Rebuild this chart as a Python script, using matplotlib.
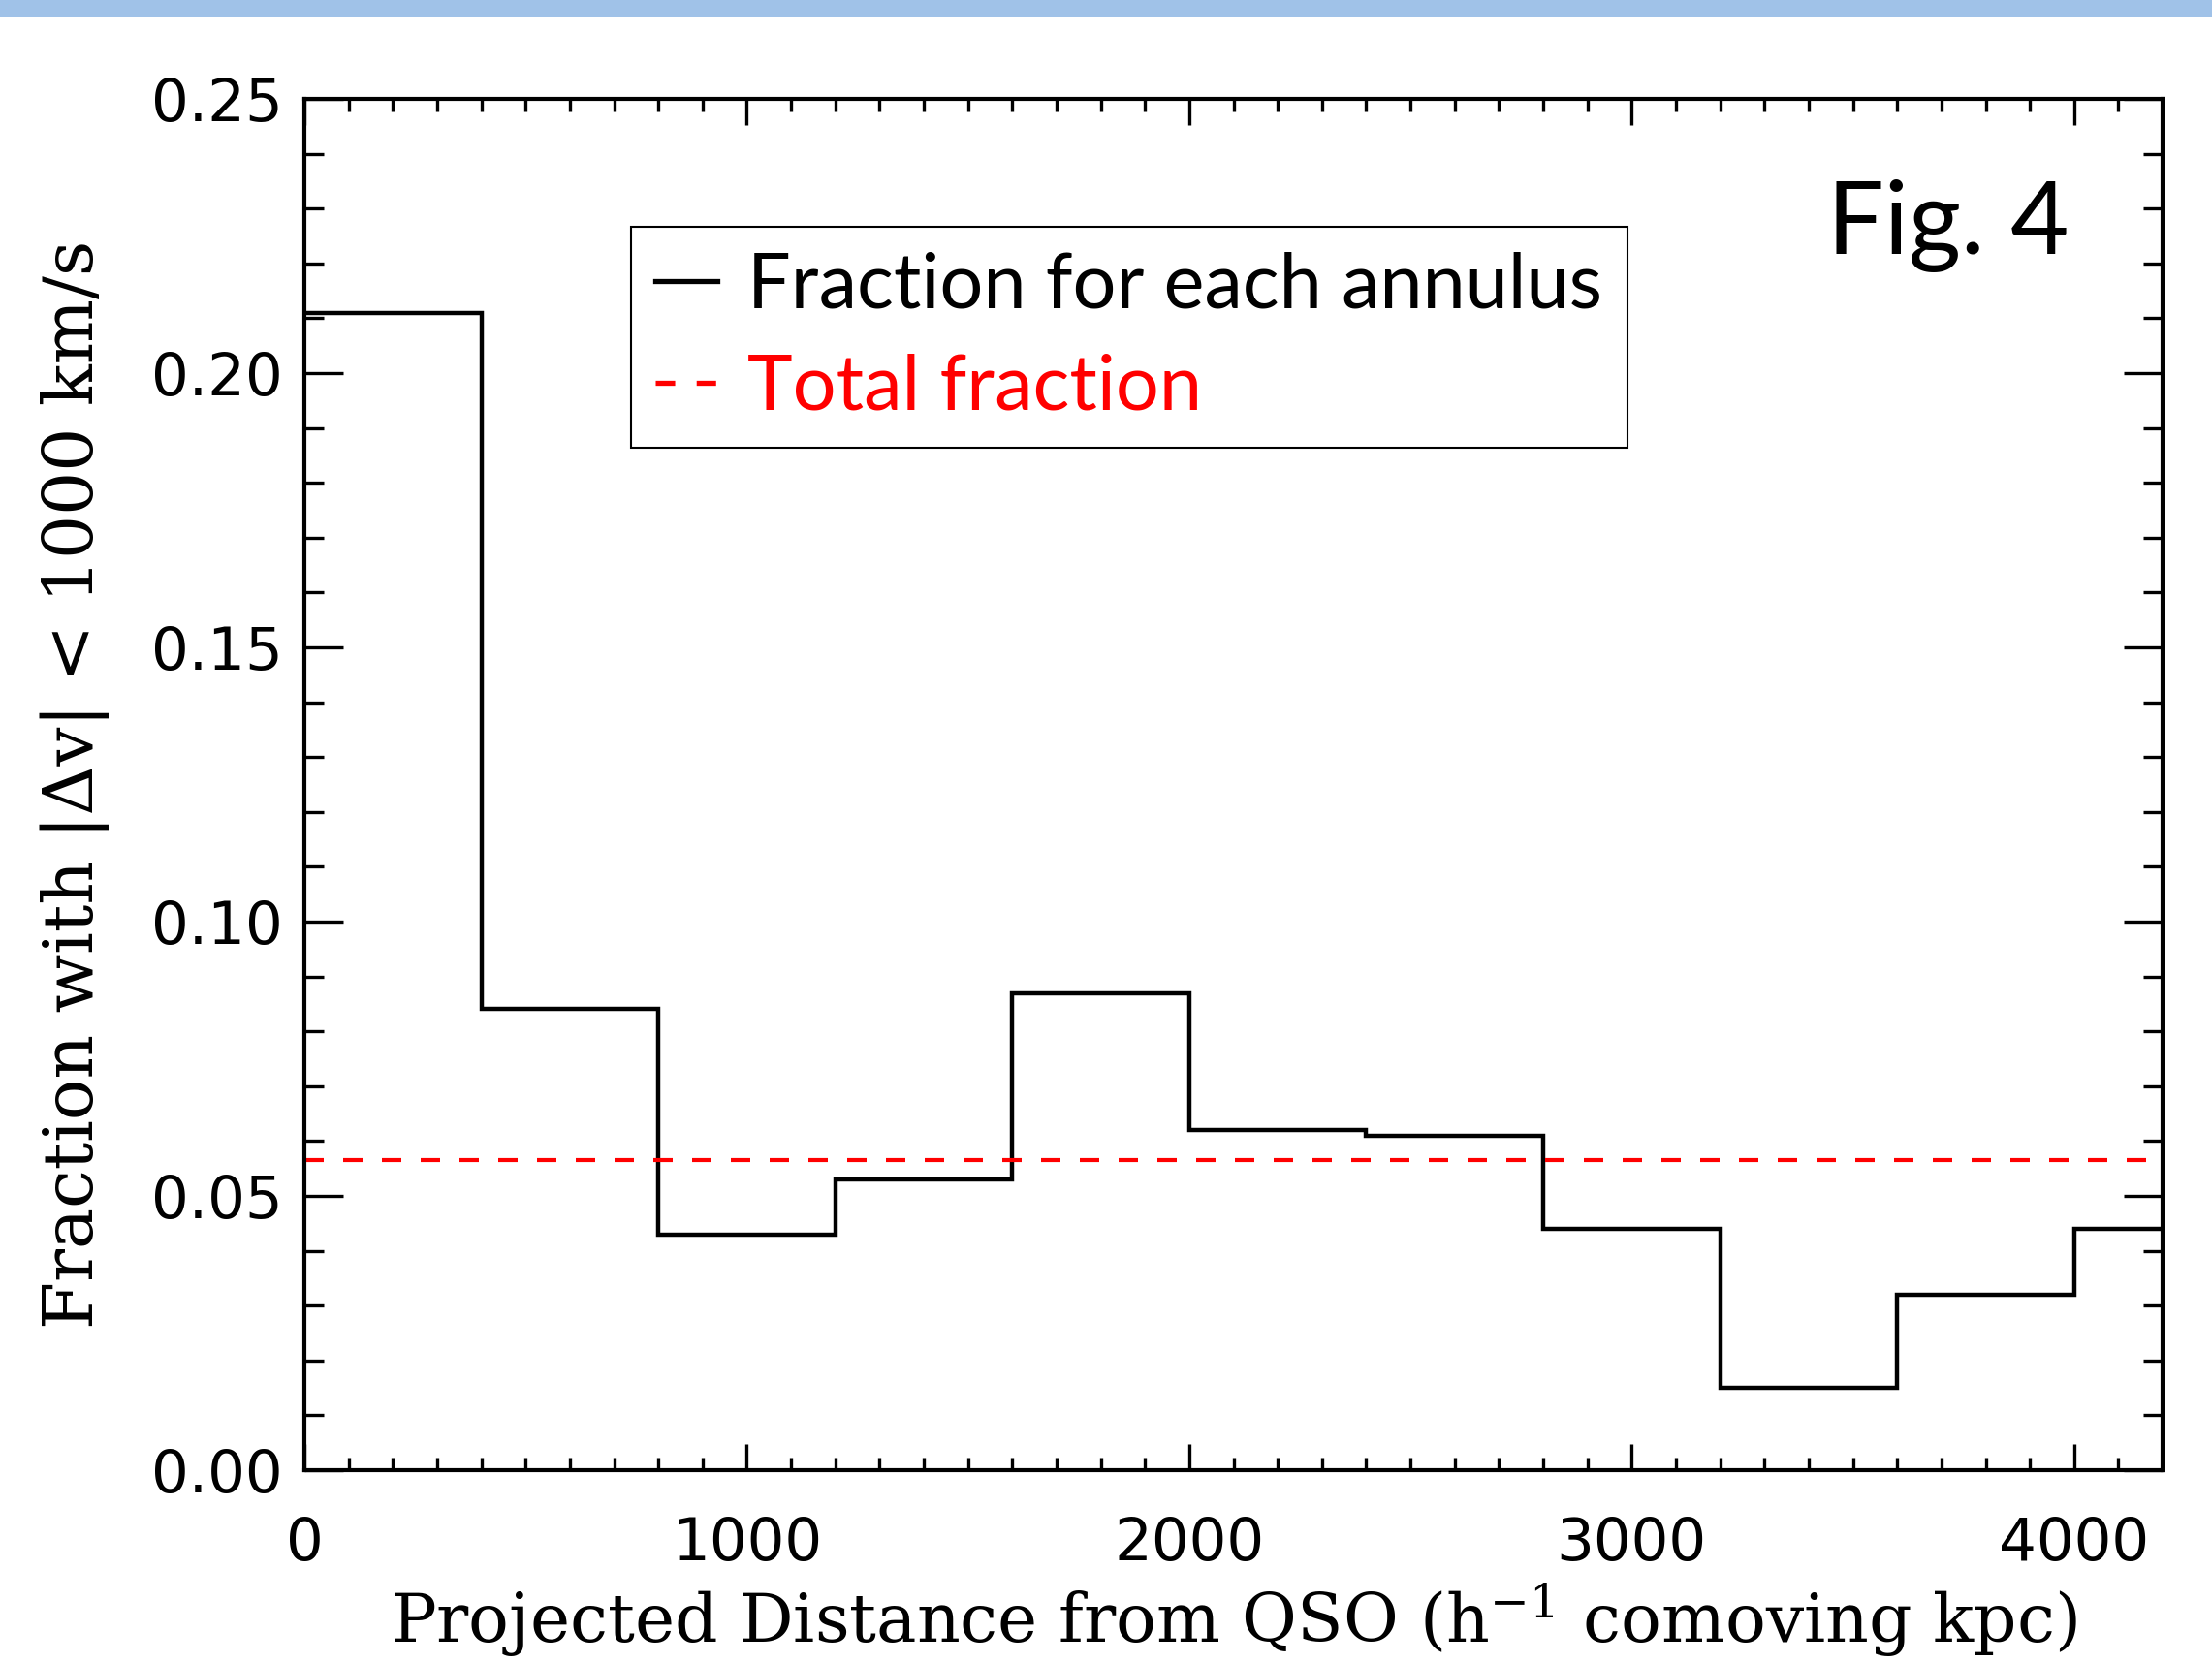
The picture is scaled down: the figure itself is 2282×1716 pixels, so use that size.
import matplotlib
matplotlib.use('Agg')
import matplotlib.pyplot as plt
from matplotlib.lines import Line2D
from matplotlib.ticker import MultipleLocator
from matplotlib.patches import Rectangle

# annulus bin edges (h^-1 comoving kpc) and fraction per annulus
binEdges = [0, 400, 800, 1200, 1600, 2000, 2400, 2800, 3200, 3600, 4000, 4200]
fracAnnulus = [0.211, 0.084, 0.043, 0.053, 0.087, 0.062, 0.061, 0.044, 0.015, 0.032, 0.044]
totalFrac = 0.0566

xTicks = [0, 1000, 2000, 3000, 4000]
yTicks = [0.00, 0.05, 0.10, 0.15, 0.20, 0.25]

plt.rcParams['mathtext.fontset'] = 'dejavuserif'

fig = plt.figure(figsize=(22.82, 17.16), dpi=100)
fig.patches.append(Rectangle((0, 0.9898), 1, 0.0102, transform=fig.transFigure,
                             facecolor='#a0c2e8', edgecolor='none'))

ax = fig.add_axes([0.1376, 0.1160, 0.8401, 0.8246])

ax.stairs(fracAnnulus, binEdges, color='black', linewidth=3.2, baseline=None)
ax.axhline(totalFrac, color='red', linewidth=3.0, dashes=(4.8, 4.8))

ax.set_xlim(0, 4200)
ax.set_ylim(0, 0.25)
ax.set_xticks(xTicks)
ax.set_yticks(yTicks)
ax.set_xticklabels([str(t) for t in xTicks])
ax.set_yticklabels(['%.2f' % t for t in yTicks])
ax.xaxis.set_minor_locator(MultipleLocator(100))
ax.yaxis.set_minor_locator(MultipleLocator(0.01))

for s in ax.spines.values():
    s.set_linewidth(3.0)

ax.tick_params(axis='both', which='both', direction='in', top=True, right=True, width=2.4)
ax.tick_params(axis='x', which='major', length=19.5, pad=34)
ax.tick_params(axis='x', which='minor', length=9.5)
ax.tick_params(axis='y', which='major', length=29, pad=16)
ax.tick_params(axis='y', which='minor', length=14.5)
for lab in ax.get_xticklabels() + ax.get_yticklabels():
    lab.set_fontfamily('DejaVu Sans')
    lab.set_fontsize(44)

ax.set_xlabel(r'Projected Distance from QSO (h$^{-1}$ comoving kpc)',
              fontfamily='DejaVu Serif', fontsize=50, labelpad=6)
ax.set_ylabel('Fraction with |Δv| < 1000 km/s',
              fontfamily='DejaVu Serif', fontsize=51, labelpad=31)

handles = [Line2D([], [], color='black', linewidth=3.8),
           Line2D([], [], color='red', linewidth=3.8, dashes=(3.8, 4.2))]
leg = ax.legend(handles, ['Fraction for each annulus', 'Total fraction'],
                loc='upper left', bbox_to_anchor=(0.1758, 0.9065), borderaxespad=0,
                prop={'family': 'Lato', 'size': 57}, handlelength=0.8,
                handletextpad=0.4, labelspacing=0.42, borderpad=0.32,
                fancybox=False, framealpha=1, edgecolor='black')
leg.get_frame().set_linewidth(1.5)
leg.get_texts()[1].set_color('red')

ax.text(0.8195, 0.887, 'Fig. 4', transform=ax.transAxes, fontfamily='Lato',
        fontsize=75, va='baseline', ha='left')

fig.savefig('out.png', dpi=100)
